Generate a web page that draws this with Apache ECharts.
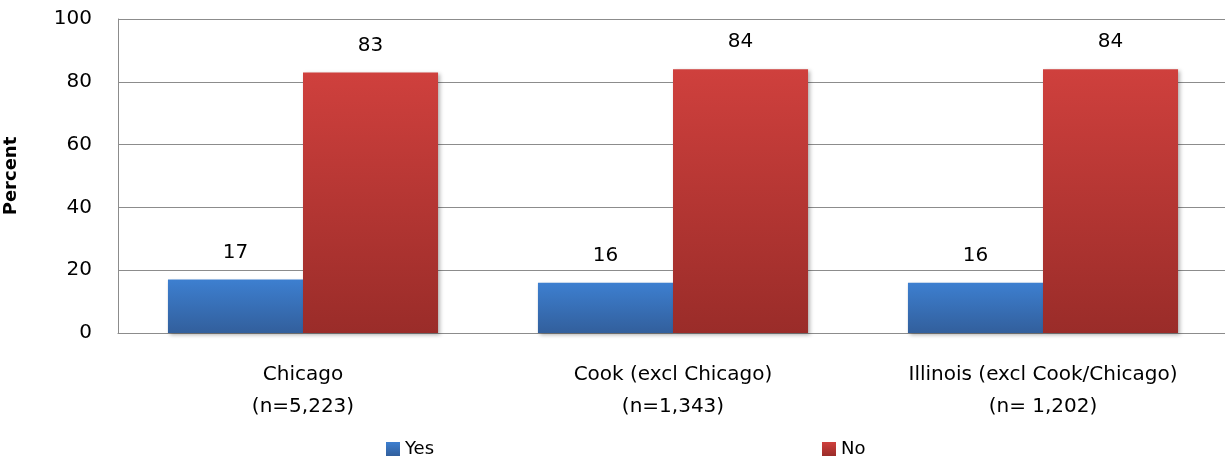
<!DOCTYPE html>
<html>
<head>
<meta charset="utf-8">
<script src="https://cdn.jsdelivr.net/npm/echarts@6/dist/echarts.min.js"></script>
<style>
  html, body { margin: 0; padding: 0; background: #fff; }
  #chart { width: 1225px; height: 462px; }
</style>
</head>
<body>
<div id="chart"></div>
<script>
// Survey response share by region
const categories = ['Chicago\n(n=5,223)', 'Cook (excl Chicago)\n(n=1,343)', 'Illinois (excl Cook/Chicago)\n(n= 1,202)'];
const yesValues = [17, 16, 16];
const noValues = [83, 84, 84];
const yTicks = [0, 20, 40, 60, 80, 100];

const FONT = '"DejaVu Sans", "Open Sans", sans-serif';

function grad(top, bottom) {
  return new echarts.graphic.LinearGradient(0, 0, 0, 1, [
    { offset: 0, color: top },
    { offset: 1, color: bottom }
  ]);
}

const barShadow = {
  shadowBlur: 4,
  shadowOffsetX: 2,
  shadowOffsetY: 2,
  shadowColor: 'rgba(0,0,0,0.3)'
};

const labelStyle = {
  show: true,
  position: 'top',
  distance: 17,
  fontSize: 20,
  color: '#000',
  fontFamily: FONT
};

const legendText = { fontSize: 18, color: '#000', fontFamily: FONT };

const chart = echarts.init(document.getElementById('chart'), null, { renderer: 'canvas' });
chart.setOption({
  animation: false,
  textStyle: { fontFamily: FONT },
  grid: { left: 118, right: -3, top: 19, bottom: 129, containLabel: false, outerBoundsMode: 'none' },
  legend: [
    {
      data: ['Yes'], left: 386, top: 440, padding: 0, icon: 'rect',
      itemWidth: 14, itemHeight: 14, itemGap: 0, textStyle: legendText
    },
    {
      data: ['No'], left: 822, top: 440, padding: 0, icon: 'rect',
      itemWidth: 14, itemHeight: 14, itemGap: 0, textStyle: legendText
    }
  ],
  xAxis: {
    type: 'category',
    data: categories,
    axisLine: { lineStyle: { color: '#8c8c8c' } },
    axisTick: { show: false },
    axisLabel: {
      fontSize: 20, color: '#000', lineHeight: 32, margin: 26, interval: 0, fontFamily: FONT
    }
  },
  yAxis: {
    type: 'value',
    min: yTicks[0],
    max: yTicks[yTicks.length - 1],
    interval: 20,
    name: 'Percent',
    nameLocation: 'middle',
    nameGap: 98,
    nameTextStyle: { fontSize: 18, fontWeight: 'bold', color: '#000', fontFamily: FONT },
    axisLine: { show: true, lineStyle: { color: '#8c8c8c' } },
    axisTick: { show: false },
    axisLabel: { fontSize: 20, color: '#000', margin: 26, padding: [4, 0, 0, 0], fontFamily: FONT },
    splitLine: { lineStyle: { color: '#8c8c8c', width: 1 } }
  },
  series: [
    {
      name: 'Yes',
      type: 'bar',
      data: yesValues,
      barGap: '0%',
      barCategoryGap: '27%',
      itemStyle: Object.assign({ color: grad('#3d7fd0', '#325f9c') }, barShadow),
      label: labelStyle
    },
    {
      name: 'No',
      type: 'bar',
      data: noValues,
      itemStyle: Object.assign({ color: grad('#cf403d', '#9a2c29') }, barShadow),
      label: labelStyle
    }
  ]
});
</script>
</body>
</html>
